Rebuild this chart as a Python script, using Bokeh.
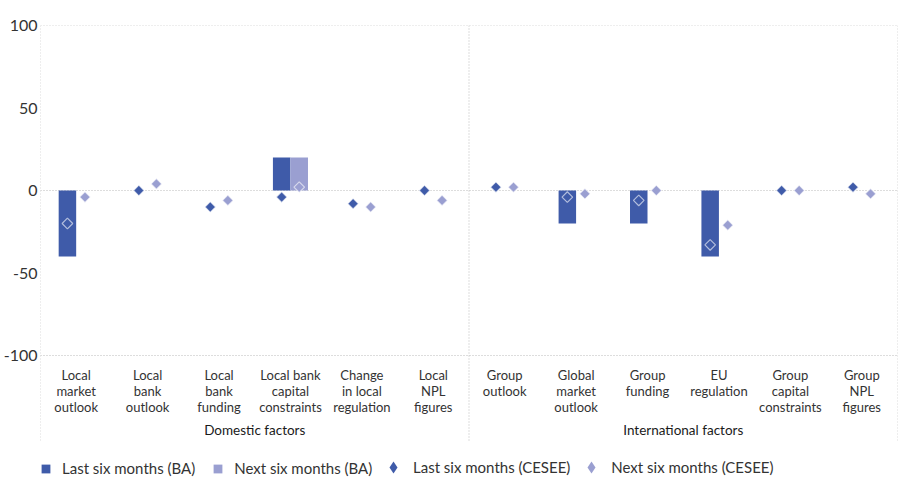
import numpy as np
from bokeh.plotting import figure
from bokeh.models import Range1d, FixedTicker, Legend, LegendItem, ColumnDataSource
from bokeh.core.properties import value
from bokeh.embed import file_html
from bokeh.resources import INLINE

# ---- data ----
categories = ["Local\nmarket\noutlook", "Local\nbank\noutlook", "Local\nbank\nfunding",
              "Local bank\ncapital\nconstraints", "Change\nin local\nregulation", "Local\nNPL\nfigures",
              "Group\noutlook", "Global\nmarket\noutlook", "Group\nfunding", "EU\nregulation",
              "Group\ncapital\nconstraints", "Group\nNPL\nfigures"]
groups = ["Domestic factors", "International factors"]
last_ba = [-40, 0, 0, 20, 0, 0, 0, -20, -20, -40, 0, 0]
next_ba = [0, 0, 0, 20, 0, 0, 0, 0, 0, 0, 0, 0]
last_cesee = [-20, 0, -10, -4, -8, 0, 2, -4, -6, -33, 0, 2]
next_cesee = [-4, 4, -6, 2, -10, -6, 2, -2, 0, -21, 0, -2]
y_ticks = [-100, -50, 0, 50, 100]
series_names = ["Last six months (BA)", "Next six months (BA)",
                "Last six months (CESEE)", "Next six months (CESEE)"]

# ---- style ----
FONT = "Lato"
DARK = "#3F5BA9"
LIGHT = "#9A9FD1"
TXT = "#333333"
GRID = "#BBBBBB"

W, H = 907, 483
TOP = 25
PX_PER_UNIT = 1.65
frame_h = H - TOP
ymin = 100 - frame_h / PX_PER_UNIT


def yv(page_y):
    """page pixel row -> data value"""
    return 100 - (page_y - TOP) / PX_PER_UNIT


n = len(categories)
centers = np.arange(n) + 0.5
off = 0.123
bw = 0.245

p = figure(width=W, height=H, output_backend="svg", toolbar_location=None,
           x_range=Range1d(0, n), y_range=Range1d(ymin, 100),
           x_axis_location=None,
           min_border_left=32, min_border_right=10, min_border_top=TOP, min_border_bottom=0)
p.outline_line_color = None
p.xgrid.visible = False
p.ygrid.visible = False
p.background_fill_color = "white"

# dotted grid lines
hlines = [y_ticks[0], y_ticks[2], y_ticks[4]]
p.segment(x0=[0] * 3, x1=[n] * 3, y0=hlines, y1=hlines,
          line_color=GRID, line_dash="1 2", line_width=1)
vx = [0, n / 2, n]
p.segment(x0=vx, x1=vx, y0=[100] * 3, y1=[yv(441)] * 3,
          line_color=GRID, line_dash="1 2", line_width=1)

src = ColumnDataSource(dict(x=centers, xl=centers - off, xr=centers + off,
                            last_ba=last_ba, next_ba=next_ba,
                            last_cesee=last_cesee, next_cesee=next_cesee))

r1 = p.vbar(x="xl", top="last_ba", bottom=0, width=bw, source=src,
            fill_color=DARK, line_color=None)
r2 = p.vbar(x="xr", top="next_ba", bottom=0, width=bw, source=src,
            fill_color=LIGHT, line_color=None)
r3 = p.scatter(x="xl", y="last_cesee", source=src, marker="square", angle=np.pi / 4,
               size=7.5, fill_color=DARK, line_color="white", line_alpha=0.6, line_width=1.2)
r4 = p.scatter(x="xr", y="next_cesee", source=src, marker="square", angle=np.pi / 4,
               size=7.5, fill_color=LIGHT, line_color="white", line_alpha=0.6, line_width=1.2)
# legend-only diamond glyphs (a single NaN point, never drawn in the plot)
l3 = p.scatter(x=[np.nan], y=[np.nan], marker="diamond", size=12, fill_color=DARK, line_color=None)
l4 = p.scatter(x=[np.nan], y=[np.nan], marker="diamond", size=12, fill_color=LIGHT, line_color=None)

# category labels
p.text(x=centers, y=[yv(366)] * n, text=categories, text_align="center",
       text_baseline="top", text_font=value(FONT), text_font_size="13px",
       text_line_height=1.0, text_color=TXT)
# group labels
p.text(x=[n / 4, 3 * n / 4], y=[yv(429)] * 2, text=groups, text_align="center",
       text_baseline="middle", text_font=value(FONT), text_font_size="13.5px",
       text_color="#1a1a1a")

# y axis
ax = p.yaxis[0]
ax.ticker = FixedTicker(ticks=y_ticks)
ax.major_label_overrides = {t: str(t) for t in y_ticks}
ax.axis_line_color = None
ax.major_tick_line_color = None
ax.minor_tick_line_color = None
ax.major_tick_out = 0
ax.major_tick_in = 0
ax.minor_tick_out = 0
ax.minor_tick_in = 0
ax.major_label_text_font = FONT
ax.major_label_text_font_size = "16px"
ax.major_label_text_color = TXT
ax.major_label_standoff = 3

common = dict(orientation="horizontal", background_fill_alpha=0, border_line_color=None,
              label_text_font=FONT, label_text_font_size="15px", label_text_color=TXT,
              padding=0, margin=0)
legend_bars = Legend(items=[LegendItem(label=series_names[0], renderers=[r1]),
                            LegendItem(label=series_names[1], renderers=[r2])],
                     location=(0, 6), glyph_width=11, glyph_height=11,
                     label_standoff=11, spacing=17, **common)
legend_pts = Legend(items=[LegendItem(label=series_names[2], renderers=[l3]),
                           LegendItem(label=series_names[3], renderers=[l4])],
                    location=(338, 1), glyph_width=30, glyph_height=30,
                    label_standoff=5, spacing=6, **common)
p.add_layout(legend_bars)
p.add_layout(legend_pts)

open("out.html", "w").write(file_html(p, INLINE))
